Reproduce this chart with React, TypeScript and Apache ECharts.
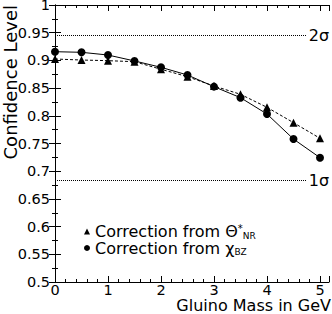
import React, { useEffect, useRef } from "react";
import * as echarts from "echarts";

const masses = [0, 0.5, 1, 1.5, 2, 2.5, 3, 3.5, 4, 4.5, 5];
const thetaValues = [0.9025, 0.9007, 0.8995, 0.8977, 0.884, 0.8706, 0.8538, 0.8388, 0.8153, 0.7876, 0.7594];
const chiValues = [0.9157, 0.9146, 0.9097, 0.899, 0.8875, 0.8736, 0.8526, 0.8327, 0.8032, 0.758, 0.7244];
const sigmaLevels = [
  { label: "2σ", value: 0.945 },
  { label: "1σ", value: 0.683 },
];
const xTitle = "Gluino Mass in GeV";
const yTitle = "Confidence Level";
const FONT = "DejaVu Sans";

export default function App() {
  const ref = useRef<HTMLDivElement>(null);
  useEffect(() => {
    if (!ref.current) return;
    const chart = echarts.init(ref.current, null, { renderer: "svg" });
    const xMin = 0;
    const xMax = 5.17;
    const axisCommon = {
      axisLine: { show: true, lineStyle: { color: "#000", width: 1 } },
      splitLine: { show: false },
    };
    const option: any = {
      animation: false,
      backgroundColor: "#fff",
      textStyle: { fontFamily: FONT },
      grid: { left: 55, right: 3, top: 5, bottom: 32, containLabel: false, outerBoundsMode: "none" },
      xAxis: [
        {
          type: "value",
          min: xMin,
          max: xMax,
          interval: 1,
          position: "bottom",
          ...axisCommon,
          axisTick: { show: true, inside: true, length: 6, lineStyle: { color: "#000" } },
          minorTick: { show: true, splitNumber: 5, length: 3, lineStyle: { color: "#000" } },
          axisLabel: { color: "#000", fontSize: 14.5, fontFamily: FONT, margin: 0, showMaxLabel: false },
        },
        {
          type: "value",
          min: xMin,
          max: xMax,
          interval: 1,
          position: "top",
          ...axisCommon,
          axisTick: { show: true, inside: true, length: 6, lineStyle: { color: "#000" } },
          minorTick: { show: true, splitNumber: 5, length: 3, lineStyle: { color: "#000" } },
          axisLabel: { show: false },
        },
      ],
      yAxis: [
        {
          type: "value",
          min: 0.5,
          max: 1,
          interval: 0.05,
          position: "left",
          ...axisCommon,
          axisTick: { show: true, inside: true, length: 6, lineStyle: { color: "#000" } },
          minorTick: { show: true, splitNumber: 2, length: 3, lineStyle: { color: "#000" } },
          axisLabel: { color: "#000", fontSize: 14.5, fontFamily: FONT, margin: 5 },
        },
        {
          type: "value",
          min: 0.5,
          max: 1,
          interval: 0.05,
          position: "right",
          ...axisCommon,
          axisTick: { show: true, inside: true, length: 6, lineStyle: { color: "#000" } },
          minorTick: { show: true, splitNumber: 2, length: 3, lineStyle: { color: "#000" } },
          axisLabel: { show: false },
        },
      ],
      legend: {
        orient: "vertical",
        left: 79,
        top: 218,
        itemWidth: 6,
        itemHeight: 6,
        itemGap: 0,
        data: [
          { name: "theta", icon: "triangle" },
          { name: "chi", icon: "circle" },
        ],
        formatter: (name: string) =>
          name === "theta"
            ? "{t|Correction from Θ}{sup|*}{sub|NR}"
            : "{t|Correction from χ}{sub|BZ}",
        textStyle: {
          color: "#000",
          fontFamily: FONT,
          rich: {
            t: { fontSize: 16, lineHeight: 17, color: "#000", fontFamily: FONT },
            sup: { fontSize: 10, lineHeight: 11, verticalAlign: "top", color: "#000", fontFamily: FONT },
            sub: { fontSize: 9, lineHeight: 10, verticalAlign: "bottom", color: "#000", fontFamily: FONT },
          },
        },
      },
      graphic: [
        {
          type: "text",
          x: 1,
          y: 5,
          rotation: Math.PI / 2,
          style: {
            text: yTitle,
            fontSize: 18,
            fontFamily: FONT,
            fill: "#000",
            align: "right",
            verticalAlign: "top",
          },
        },
        {
          type: "text",
          x: 331,
          y: 297,
          style: {
            text: xTitle,
            fontSize: 16,
            lineHeight: 17,
            fontFamily: FONT,
            fill: "#000",
            align: "right",
            verticalAlign: "top",
          },
        },
      ],
      series: [
        {
          name: "theta",
          type: "line",
          data: masses.map((m, i) => [m, thetaValues[i]]),
          symbol: "triangle",
          symbolSize: 8,
          itemStyle: { color: "#000" },
          lineStyle: { color: "#000", width: 1, type: [3, 2] },
          z: 3,
        },
        {
          name: "chi",
          type: "line",
          data: masses.map((m, i) => [m, chiValues[i]]),
          symbol: "circle",
          symbolSize: 8,
          itemStyle: { color: "#000" },
          lineStyle: { color: "#000", width: 1 },
          z: 4,
          markLine: {
            silent: true,
            symbol: "none",
            lineStyle: { color: "#000", width: 1, type: [1, 1] },
            label: {
              position: "end",
              distance: 2,
              color: "#000",
              fontSize: 16,
              fontFamily: FONT,
              formatter: (p: any) => p.name,
            },
            data: sigmaLevels.map((s) => [
              { name: s.label, coord: [xMin, s.value] },
              { coord: [4.75, s.value] },
            ]),
          },
        },
      ],
    };
    chart.setOption(option);
    return () => chart.dispose();
  }, []);
  return (
    <div
      ref={ref}
      style={{ position: "fixed", left: 0, top: 0, width: 332, height: 314 }}
    />
  );
}
